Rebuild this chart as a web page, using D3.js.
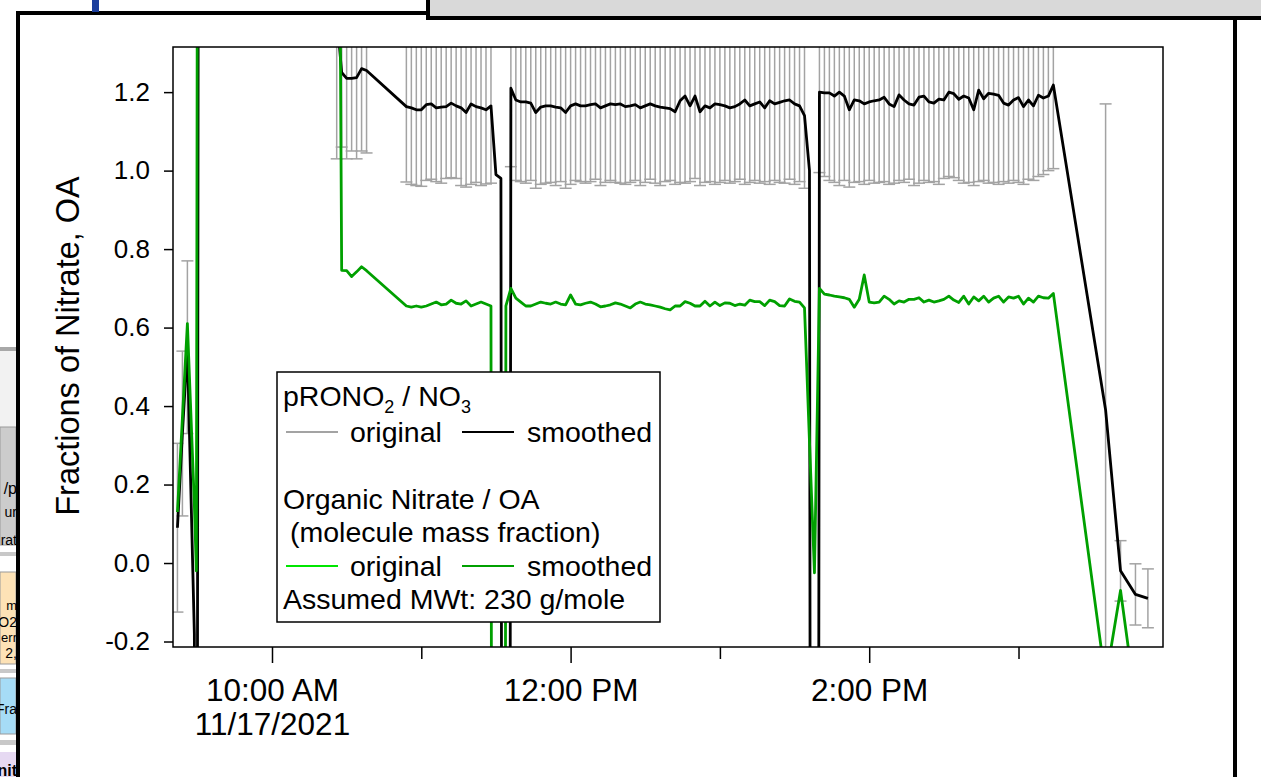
<!DOCTYPE html>
<html>
<head>
<meta charset="utf-8">
<title>Fractions of Nitrate, OA</title>
<script src="https://cdn.jsdelivr.net/npm/d3@7/dist/d3.min.js"></script>
<style>
body { margin: 0; background: #fff; overflow: hidden; }
svg text { font-family: Arial, "Liberation Sans", sans-serif; fill: #000; }
</style>
</head>
<body>
<script>
// 11/17/2021 -- pRONO2/NO3 and organic nitrate / OA, samples every 2 min where a start time is given
var day = "2021-11-17";
var sampleMinutes = 2;

// start-up points (irregular times)
var earlyTimes = ["09:22:00", "09:24:00", "09:26:00", "09:28:48", "09:29:36", "09:30:36"];
var earlyNO3 = [0.09, 0.33, 0.55, -0.18, -3, 3];
var earlyOrg = [0.13, 0.37, 0.61, 0.15, -0.02, 4];
var earlyLow = [-0.125, 0.12, 0.33, NaN, NaN, NaN];

// first block after restart
var riseStart = "10:26:00";
var riseNO3 = [1.40, 1.25, 1.235, 1.235, 1.237, 1.26, 1.255];
var riseOrg = [3, 0.746, 0.745, 0.73, 0.742, 0.755, 0.745];
var riseLow = [1.03, 1.06, 1.03, 1.05, 1.03, 1.05, 1.045];

// main block
var mainStart = "10:54:00";
var mainNO3 = [
  1.163, 1.160, 1.155, 1.155, 1.168, 1.170, 1.160, 1.162, 1.163, 1.172,
  1.165, 1.160, 1.148, 1.170, 1.163, 1.160, 1.155, 1.165, 0.990, 0.980,
  -10, 1.210, 1.180, 1.175, 1.175, 1.172, 1.148, 1.162, 1.165, 1.165,
  1.162, 1.160, 1.148, 1.165, 1.170, 1.165, 1.165, 1.168, 1.170, 1.160,
  1.165, 1.170, 1.168, 1.170, 1.163, 1.165, 1.168, 1.160, 1.165, 1.170,
  1.165, 1.162, 1.160, 1.158, 1.150, 1.178, 1.190, 1.165, 1.190, 1.150,
  1.165, 1.160, 1.170, 1.168, 1.165, 1.160, 1.163, 1.170, 1.180, 1.165,
  1.170, 1.175, 1.160, 1.178, 1.170, 1.174, 1.178, 1.180, 1.170, 1.165,
  1.140, 1.000, -10, 1.200, 1.198, 1.198, 1.190, 1.200, 1.190, 1.155,
  1.180, 1.178, 1.170, 1.175, 1.178, 1.180, 1.187, 1.170, 1.163, 1.193,
  1.180, 1.170, 1.167, 1.187, 1.190, 1.175, 1.172, 1.182, 1.180, 1.200,
  1.196, 1.182, 1.190, 1.185, 1.155, 1.205, 1.183, 1.197, 1.195, 1.192,
  1.172, 1.167, 1.180, 1.186, 1.163, 1.180, 1.165, 1.192, 1.185, 1.190,
  1.218
];
var mainOrg = [
  0.655, 0.652, 0.655, 0.652, 0.655, 0.660, 0.665, 0.658, 0.660, 0.670,
  0.662, 0.660, 0.668, 0.655, 0.660, 0.665, 0.660, 0.655, -10, -10,
  0.655, 0.700, 0.675, 0.665, 0.655, 0.655, 0.660, 0.665, 0.662, 0.660,
  0.665, 0.660, 0.658, 0.683, 0.660, 0.658, 0.662, 0.665, 0.660, 0.653,
  0.655, 0.658, 0.663, 0.660, 0.655, 0.650, 0.660, 0.665, 0.660, 0.658,
  0.655, 0.652, 0.648, 0.645, 0.655, 0.655, 0.666, 0.662, 0.655, 0.655,
  0.667, 0.655, 0.665, 0.656, 0.663, 0.662, 0.656, 0.660, 0.657, 0.670,
  0.666, 0.666, 0.656, 0.670, 0.666, 0.656, 0.655, 0.673, 0.667, 0.665,
  0.650, 0.310, -0.025, 0.700, 0.685, 0.683, 0.680, 0.678, 0.676, 0.672,
  0.652, 0.672, 0.734, 0.665, 0.663, 0.665, 0.680, 0.672, 0.660, 0.668,
  0.665, 0.672, 0.672, 0.676, 0.665, 0.670, 0.665, 0.668, 0.672, 0.680,
  0.670, 0.664, 0.680, 0.660, 0.678, 0.668, 0.680, 0.665, 0.675, 0.680,
  0.665, 0.678, 0.675, 0.680, 0.660, 0.675, 0.665, 0.680, 0.676, 0.675,
  0.687
];
// lower end of the pRONO2/NO3 error bar (upper end is off the top)
var mainLow = [
  0.971, 0.965, 0.962, 0.960, 0.975, 0.978, 0.972, 0.968, 0.980, 0.982,
  0.980, 0.962, 0.958, 0.965, 0.970, 0.962, 0.966, 0.968, NaN, NaN,
  NaN, 1.010, 0.975, 0.972, 0.968, 0.975, 0.955, 0.965, 0.968, 0.970,
  0.962, 0.972, 0.955, 0.965, 0.975, 0.972, 0.968, 0.972, 0.978, 0.962,
  0.970, 0.975, 0.970, 0.968, 0.965, 0.970, 0.975, 0.962, 0.970, 0.978,
  0.968, 0.962, 0.972, 0.975, 0.965, 0.970, 0.968, 0.972, 0.980, 0.962,
  0.970, 0.972, 0.965, 0.970, 0.975, 0.968, 0.972, 0.978, 0.965, 0.970,
  0.975, 0.968, 0.972, 0.965, 0.975, 0.970, 0.968, 0.978, 0.965, 0.972,
  0.955, NaN, NaN, 0.995, 0.985, 0.975, 0.970, 0.962, 0.975, 0.958,
  0.970, 0.972, 0.965, 0.975, 0.968, 0.970, 0.972, 0.965, 0.968, 0.975,
  0.970, 0.978, 0.962, 0.968, 0.975, 0.970, 0.972, 0.965, 0.980, 0.985,
  0.982, 0.975, 0.968, 0.970, 0.962, 0.972, 0.975, 0.968, 0.970, 0.965,
  0.972, 0.968, 0.975, 0.970, 0.965, 0.978, 0.975, 0.985, 0.990, 1.000,
  1.005
];

// end of run
var tailTimes = ["15:35:00", "15:41:00", "15:47:00", "15:52:00"];
var tailNO3 = [0.39, -0.02, -0.08, -0.09];
var tailOrg = [-0.30, -0.07, -0.35, -0.5];
var tailLow = [-0.39, -0.097, -0.158, -0.165];

var yTicks = [-0.2, 0.0, 0.2, 0.4, 0.6, 0.8, 1.0, 1.2];
var xTickTimes = ["10:00:00", "11:00:00", "12:00:00", "13:00:00", "14:00:00", "15:00:00"];
var xTickLabels = ["10:00 AM", "", "12:00 PM", "", "2:00 PM", ""];
var dateLabel = "11/17/2021";
var xStart = "09:20:13", xEnd = "15:58:04";
var yMin = -0.214, yMax = 1.315;

var parseTime = d3.timeParse("%Y-%m-%d %H:%M:%S");
function at(hms) { return parseTime(day + " " + hms); }
function stepTimes(start, n) {
    var t0 = at(start);
    return d3.range(n).map(function (i) { return d3.timeMinute.offset(t0, i * sampleMinutes); });
}
function points(times, no3, org, low) {
    return times.map(function (t, i) { return { t: t, no3: no3[i], org: org[i], low: low[i] }; });
}

var data = [].concat(
    points(earlyTimes.map(at), earlyNO3, earlyOrg, earlyLow),
    points(stepTimes(riseStart, riseNO3.length), riseNO3, riseOrg, riseLow),
    points(stepTimes(mainStart, mainNO3.length), mainNO3, mainOrg, mainLow),
    points(tailTimes.map(at), tailNO3, tailOrg, tailLow)
);

var W = 1261, H = 777;
var plot = { left: 173, top: 47, right: 1163, bottom: 647 };
var grey = "#a3a3a3", dkGreen = "#00a000", ltGreen = "#00e600";

var svg = d3.select("body").append("svg").attr("width", W).attr("height", H);

// --- window chrome around the graph ---
var chrome = svg.append("g");
chrome.append("rect").attr("x", 428).attr("y", 0).attr("width", 833).attr("height", 17).attr("fill", "#d9d9d9");
chrome.append("rect").attr("x", 426).attr("y", 0).attr("width", 4).attr("height", 20).attr("fill", "#000");
chrome.append("rect").attr("x", 426).attr("y", 16).attr("width", 835).attr("height", 4).attr("fill", "#000");
chrome.append("rect").attr("x", 16).attr("y", 11).attr("width", 414).attr("height", 4).attr("fill", "#000");
chrome.append("rect").attr("x", 92).attr("y", 0).attr("width", 7).attr("height", 12).attr("fill", "#1c3f9e");
chrome.append("rect").attr("x", 1233).attr("y", 18).attr("width", 4).attr("height", H - 18).attr("fill", "#000");

// bits of the neighbouring panel at the left edge
var side = chrome.append("g");
side.append("rect").attr("x", 0).attr("y", 347).attr("width", 16).attr("height", 4).attr("fill", "#a8a8a8");
side.append("rect").attr("x", 0).attr("y", 351).attr("width", 16).attr("height", 76).attr("fill", "#f2f2f2");
side.append("rect").attr("x", 0).attr("y", 427).attr("width", 16).attr("height", 118).attr("fill", "#cccccc").attr("stroke", "#9a9a9a");
side.append("rect").attr("x", 0).attr("y", 552).attr("width", 16).attr("height", 4).attr("fill", "#c8c8c8");
side.append("rect").attr("x", 0).attr("y", 572).attr("width", 16).attr("height", 92).attr("fill", "#fde2b6").attr("stroke", "#9a9a9a");
side.append("rect").attr("x", 0).attr("y", 669).attr("width", 16).attr("height", 4).attr("fill", "#c8c8c8");
side.append("rect").attr("x", 0).attr("y", 678).attr("width", 16).attr("height", 56).attr("fill", "#a6dcf6").attr("stroke", "#9a9a9a");
side.append("rect").attr("x", 0).attr("y", 740).attr("width", 16).attr("height", 5).attr("fill", "#c8c8c8");
side.append("rect").attr("x", 0).attr("y", 752).attr("width", 16).attr("height", 30).attr("fill", "#e6d9f2");
var sideTxt = [["/p", 494, 16], ["ur", 517, 14], ["rat", 545, 14], ["m", 610, 13], ["O2", 627, 14], ["err", 642, 13], ["2,", 658, 14], ["Fra", 714, 14], ["nit", 776, 16]];
side.selectAll("text.side").data(sideTxt).enter().append("text")
    .attr("x", 17).attr("y", function (d) { return d[1]; })
    .attr("text-anchor", "end").style("font-size", function (d) { return d[2] + "px"; })
    .style("font-weight", function (d) { return d[0] === "nit" ? "bold" : null; })
    .text(function (d) { return d[0]; });
chrome.append("rect").attr("x", 16).attr("y", 11).attr("width", 4).attr("height", H - 11).attr("fill", "#000");

// --- scales ---
var x = d3.scaleTime().domain([at(xStart), at(xEnd)]).range([plot.left, plot.right]);
var y = d3.scaleLinear().domain([yMin, yMax]).range([plot.bottom, plot.top]);

svg.append("clipPath").attr("id", "plotClip").append("rect")
    .attr("x", plot.left).attr("y", plot.top)
    .attr("width", plot.right - plot.left).attr("height", plot.bottom - plot.top);

var g = svg.append("g").attr("clip-path", "url(#plotClip)");

// error bars on pRONO2/NO3
var bars = data.filter(function (d) { return !isNaN(d.low); });
var cap = 6;
var eb = g.append("g").attr("stroke", grey).attr("stroke-width", 1.5);
bars.forEach(function (d) {
    var xx = x(d.t), y0 = y(d.low), y1 = y(2 * d.no3 - d.low);
    eb.append("line").attr("x1", xx).attr("x2", xx).attr("y1", y0).attr("y2", y1);
    eb.append("line").attr("x1", xx - cap).attr("x2", xx + cap).attr("y1", y0).attr("y2", y0);
    eb.append("line").attr("x1", xx - cap).attr("x2", xx + cap).attr("y1", y1).attr("y2", y1);
});

var lineNO3 = d3.line().defined(function (d) { return !isNaN(d.no3); })
    .x(function (d) { return x(d.t); }).y(function (d) { return y(d.no3); });
var lineOrg = d3.line().defined(function (d) { return !isNaN(d.org); })
    .x(function (d) { return x(d.t); }).y(function (d) { return y(d.org); });

g.append("path").datum(data).attr("d", lineNO3).attr("fill", "none")
    .attr("stroke", "#000").attr("stroke-width", 2.8).attr("stroke-linejoin", "round");
g.append("path").datum(data).attr("d", lineOrg).attr("fill", "none")
    .attr("stroke", dkGreen).attr("stroke-width", 2.8).attr("stroke-linejoin", "round");

// --- frame and axes ---
svg.append("rect").attr("x", plot.left).attr("y", plot.top)
    .attr("width", plot.right - plot.left).attr("height", plot.bottom - plot.top)
    .attr("fill", "none").attr("stroke", "#000").attr("stroke-width", 1.5);

var yAxis = d3.axisLeft(y).tickValues(yTicks).tickSize(9).tickPadding(14)
    .tickFormat(function (d) { return d.toFixed(1); });
var gy = svg.append("g").attr("transform", "translate(" + plot.left + ",0)").call(yAxis);
gy.select(".domain").remove();
gy.selectAll(".tick line").attr("stroke", "#000").attr("stroke-width", 1.5);
gy.selectAll(".tick text").style("font-size", "26px").attr("fill", "#000");

var xTicks = xTickTimes.map(at);
var xAxis = d3.axisBottom(x).tickValues(xTicks).tickSize(16).tickFormat("");
var gx = svg.append("g").attr("transform", "translate(0," + plot.bottom + ")").call(xAxis);
gx.select(".domain").remove();
gx.selectAll(".tick line").attr("stroke", "#000").attr("stroke-width", 1.5)
    .attr("y2", function (d, i) { return xTickLabels[i] ? 16 : 12; });
gx.selectAll(".tick").append("text").attr("y", 54).attr("dy", 0)
    .style("font-size", "31.5px").attr("fill", "#000")
    .text(function (d, i) { return xTickLabels[i]; });
gx.select(".tick").append("text").attr("y", 88).style("font-size", "31.5px").attr("fill", "#000").text(dateLabel);

svg.append("text").attr("transform", "translate(79,346) rotate(-90)")
    .attr("text-anchor", "middle").style("font-size", "32.5px").text("Fractions of Nitrate, OA");

// --- legend ---
var lg = svg.append("g").style("font-size", "28.5px");
lg.append("rect").attr("x", 277).attr("y", 372).attr("width", 383).attr("height", 250)
    .attr("fill", "#fff").attr("stroke", "#000").attr("stroke-width", 1.5);
var t1 = lg.append("text").attr("x", 283).attr("y", 406);
t1.append("tspan").text("pRONO");
t1.append("tspan").attr("dy", 7).style("font-size", "18px").text("2");
t1.append("tspan").attr("dy", -7).text(" / NO");
t1.append("tspan").attr("dy", 7).style("font-size", "18px").text("3");

var legendRows = [
    { y: 432, left: grey, right: "#000" },
    { y: 566, left: ltGreen, right: dkGreen }
];
legendRows.forEach(function (r) {
    lg.append("line").attr("x1", 286).attr("x2", 338).attr("y1", r.y).attr("y2", r.y)
        .attr("stroke", r.left).attr("stroke-width", 2);
    lg.append("text").attr("x", 350).attr("y", r.y + 10).text("original");
    lg.append("line").attr("x1", 462).attr("x2", 514).attr("y1", r.y).attr("y2", r.y)
        .attr("stroke", r.right).attr("stroke-width", 2);
    lg.append("text").attr("x", 527).attr("y", r.y + 10).text("smoothed");
});
lg.append("text").attr("x", 283).attr("y", 509).text("Organic Nitrate / OA");
lg.append("text").attr("x", 290).attr("y", 542).text("(molecule mass fraction)");
lg.append("text").attr("x", 283).attr("y", 609).text("Assumed MWt: 230 g/mole");
</script>
</body>
</html>
